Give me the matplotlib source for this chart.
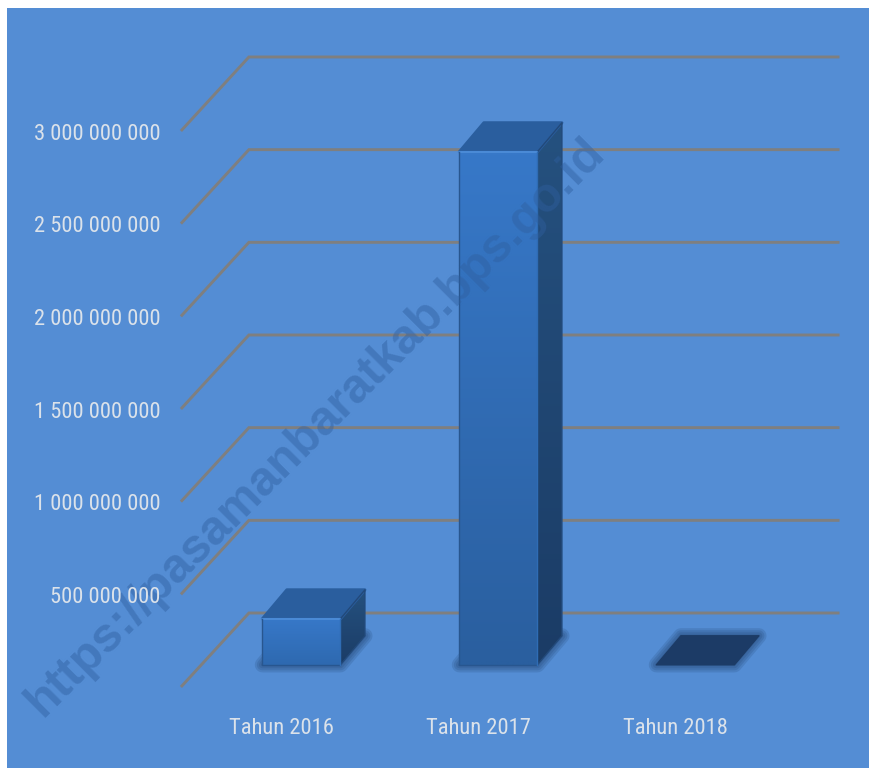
import numpy as np
import matplotlib
matplotlib.use("Agg")
import matplotlib.pyplot as plt
from matplotlib.patches import Polygon

kategori = ["Tahun 2016", "Tahun 2017", "Tahun 2018"]
nilai = [248000000, 2768000000, 2000000]
tick_nilai = [500000000, 1000000000, 1500000000, 2000000000, 2500000000, 3000000000]
grid_nilai = [0, 500000000, 1000000000, 1500000000, 2000000000, 2500000000, 3000000000]
tick_label = ["500 000 000", "1 000 000 000", "1 500 000 000",
              "2 000 000 000", "2 500 000 000", "3 000 000 000"]
watermark = "https://pasamanbaratkab.bps.go.id"

W, H = 869, 768
BG = "#548dd4"
FONT = ["Roboto Condensed", "Lato", "DejaVu Sans"]
TEXT = "#dbe2ea"

# skala: 197 px per kategori, 92.67 px per 500 juta
PX_X = 197.0
PX_Y = 92.67 / 500000000
dx = 68 / PX_X
dy = 74 / PX_Y
lebar = 0.396
d0 = 0.30
ox = 24.5 / PX_X
oy = 29 / PX_Y

fig = plt.figure(figsize=(W / 100, H / 100), dpi=100, facecolor="white")
left, top = 7, 8
ax = fig.add_axes([left / W, 0, (W - left) / W, (H - top) / H], facecolor=BG)


def gradien(titik, warna1, warna2, arah="v", z=3):
    # isi polygon dengan gradien warna (imshow yang di-clip)
    titik = np.array(titik)
    c1 = np.array(matplotlib.colors.to_rgb(warna1))
    c2 = np.array(matplotlib.colors.to_rgb(warna2))
    t = np.linspace(0, 1, 64)
    g = c1[None, :] * (1 - t[:, None]) + c2[None, :] * t[:, None]
    img = g[:, None, :] if arah == "v" else g[None, :, :]
    im = ax.imshow(img, extent=(titik[:, 0].min(), titik[:, 0].max(),
                                titik[:, 1].min(), titik[:, 1].max()),
                   origin="upper", aspect="auto", zorder=z, interpolation="bilinear")
    p = Polygon(titik, closed=True, transform=ax.transData, fc="none", ec="none")
    ax.add_patch(p)
    im.set_clip_path(p)


def bayangan(titik, z=2):
    for lw in [11, 8, 5, 2]:
        ax.add_patch(Polygon(titik, closed=True, fc="#1c3c66", ec="#1c3c66", lw=lw,
                             alpha=0.17, joinstyle="round", zorder=z))


# garis grid: diagonal dinding kiri lalu horizontal di dinding belakang
x_kiri = -0.508
for v in grid_nilai:
    ax.plot([x_kiri, x_kiri + dx, 2.49 + dx], [v, v + dy, v + dy], color="#7f7f7f",
            lw=2.1, solid_joinstyle="miter", solid_capstyle="butt", zorder=1)

# batang
for i, v in enumerate(nilai):
    xa = i - lebar / 2 + d0 * dx
    xb = i + lebar / 2 + d0 * dx
    y0 = d0 * dy
    y1 = y0 + v
    depan = [(xa, y0), (xb, y0), (xb, y1), (xa, y1)]
    atas = [(xa, y1), (xb, y1), (xb + ox, y1 + oy), (xa + ox, y1 + oy)]
    sisi = [(xb, y0), (xb + ox, y0 + oy), (xb + ox, y1 + oy), (xb, y1)]
    alas = [(xa, y0), (xb, y0), (xb + ox, y0 + oy), (xa + ox, y0 + oy)]
    bayangan(alas)
    if v < 10000000:
        ax.add_patch(Polygon(alas, closed=True, fc="#1c3b66", ec="#1c3b66", lw=1,
                             joinstyle="round", zorder=3))
        continue
    frac = v / nilai[1]
    gradien(sisi, "#25517f", "#1b3c66", z=3)
    ax.add_patch(Polygon(atas, closed=True, fc="#2a5e9e", ec="#2a5e9e", lw=2.2,
                         joinstyle="round", zorder=3))
    ax.add_patch(Polygon(sisi, closed=True, fc="none", ec="#22497a", lw=1.0,
                         joinstyle="round", zorder=3.1))
    gradien(depan, "#3778c8", "#2a5f9f" if frac > 0.5 else "#2e69b0", z=3.2)
    # tepi bevel
    ax.plot([xa, xb], [y1, y1], color="#4a8ad6", lw=1.5, zorder=4, solid_capstyle="round")
    ax.plot([xa, xa, xb], [y1, y0, y0], color="#28568f", lw=1.0, zorder=4)
    ax.plot([xb, xb], [y0, y1], color="#2f6cb4", lw=1.0, zorder=4)

# label sumbu
for v, s in zip(tick_nilai, tick_label):
    ax.annotate(s, (-0.61, v), xytext=(0, -2.3), textcoords="offset points", ha="right",
                va="center", color=TEXT, fontsize=16.2, family=FONT, zorder=6)
for i, s in enumerate(kategori):
    ax.annotate(s, (i, -39 / PX_Y), xytext=(0, -1.8), textcoords="offset points", ha="center",
                va="center", color=TEXT, fontsize=16.2, family=FONT, zorder=6)

ax.text((316 - 281) / PX_X, (687 - 427) / PX_Y, watermark, rotation=45,
        rotation_mode="anchor", ha="center", va="center", fontsize=34.7, fontweight="bold",
        family=["Liberation Sans", "DejaVu Sans"], color="#2f5f9f", alpha=0.45, zorder=5)

# batas sumbu dihitung dari piksel supaya skala pas
ax.set_xlim((left - 281) / PX_X, (W - 281) / PX_X)
ax.set_ylim((687 - H) / PX_Y, (687 - top) / PX_Y)
ax.set_xticks([])
ax.set_yticks([])
for s in ax.spines.values():
    s.set_visible(False)

fig.savefig("out.png", dpi=100, facecolor="white")
